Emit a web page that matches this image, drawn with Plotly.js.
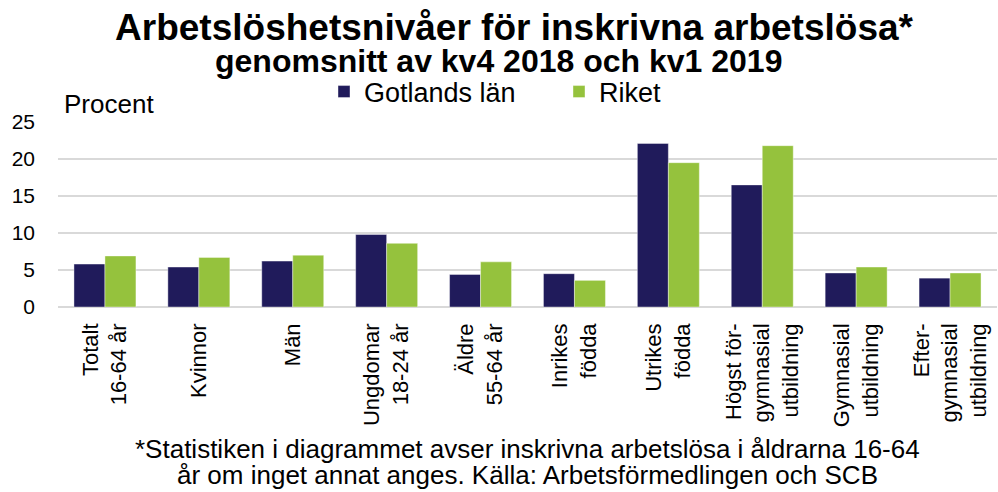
<!DOCTYPE html>
<html>
<head>
<meta charset="utf-8">
<script src="https://cdn.plot.ly/plotly-3.0.1.min.js"></script>
<style>html,body{margin:0;padding:0;background:#fff;}#chart{width:998px;height:492px;}</style>
</head>
<body>
<div id="chart"></div>
<script>
const categories = [
  "Totalt<br>16-64 år",
  "Kvinnor",
  "Män",
  "Ungdomar<br>18-24 år",
  "Äldre<br>55-64 år",
  "Inrikes<br>födda",
  "Utrikes<br>födda",
  "Högst för-<br>gymnasial<br>utbildning",
  "Gymnasial<br>utbildning",
  "Efter-<br>gymnasial<br>utbildning"
];
const gotland = [5.8, 5.4, 6.2, 9.8, 4.4, 4.5, 22.1, 16.5, 4.6, 3.9];
const riket   = [6.9, 6.7, 7.0, 8.6, 6.1, 3.6, 19.5, 21.8, 5.4, 4.6];
const seriesNames = ["Gotlands län", "Riket"];
const yTicks = [0, 5, 10, 15, 20, 25];
const footnoteLines = [
  "*Statistiken i diagrammet avser inskrivna arbetslösa i åldrarna 16-64",
  "år om inget annat anges. Källa: Arbetsförmedlingen och SCB"
];

const AR = "Arial, 'Liberation Sans', sans-serif";
const L = 58, W = 939, T = 122, H = 185;
const px = p => (p - L) / W;          // pixel column -> paper x
const py = p => (T + H - p) / H;      // pixel row -> paper y

const traces = [
  {type: "bar", name: seriesNames[0], x: categories, y: gotland,
   marker: {color: "#201b5b", line: {color: "rgba(255,255,255,0.5)", width: 0.8}}},
  {type: "bar", name: seriesNames[1], x: categories, y: riket,
   marker: {color: "#95c23d", line: {color: "rgba(255,255,255,0.5)", width: 0.8}}}
];

const layout = {
  width: 998, height: 492,
  paper_bgcolor: "#ffffff", plot_bgcolor: "#ffffff",
  margin: {l: L, r: 998 - L - W, t: T, b: 492 - T - H},
  barmode: "group", bargap: 0.34, bargroupgap: 0,
  font: {family: AR, color: "#000"},
  title: {
    text: "<b>Arbetslöshetsnivåer för inskrivna arbetslösa*</b>",
    font: {family: AR, size: 37, color: "#000"},
    x: 514/998, xanchor: "center", xref: "container",
    y: 1 - 40/492, yref: "container", yanchor: "bottom"
  },
  showlegend: true,
  legend: {
    orientation: "h", x: px(324), xanchor: "left", y: 1 - 92/492, yref: "container", yanchor: "middle",
    font: {family: AR, size: 27, color: "#000"},
    traceorder: "normal", entrywidth: 190, itemwidth: 30
  },
  xaxis: {
    type: "category", tickangle: -90, tickfont: {family: AR, size: 22, color: "#000"},
    showgrid: false, showline: false, ticks: "", ticklabelstandoff: 11, automargin: false
  },
  yaxis: {
    range: [0, 25], tickvals: yTicks, ticktext: yTicks.map(String),
    tickfont: {family: AR, size: 21, color: "#000"},
    showgrid: true, gridcolor: "#d9d9d9", gridwidth: 2,
    zeroline: true, zerolinecolor: "#d9d9d9", zerolinewidth: 2,
    showline: false, ticks: "", ticklabelstandoff: 22, automargin: false
  },
  annotations: [
    {text: "<b>genomsnitt av kv4 2018 och kv1 2019</b>", xref: "paper", yref: "paper",
     x: px(498), y: py(81), xanchor: "center", yanchor: "bottom",
     showarrow: false, font: {family: AR, size: 32, color: "#000"}},
    {text: "Procent", xref: "paper", yref: "paper", x: px(62), y: py(121),
     xanchor: "left", yanchor: "bottom", showarrow: false,
     font: {family: AR, size: 26, color: "#000"}},
    {text: footnoteLines[0], xref: "paper", yref: "paper", x: px(527), y: py(449),
     xanchor: "center", yanchor: "middle", showarrow: false,
     font: {family: AR, size: 26, color: "#000"}},
    {text: footnoteLines[1], xref: "paper", yref: "paper", x: px(527), y: py(475),
     xanchor: "center", yanchor: "middle", showarrow: false,
     font: {family: AR, size: 26, color: "#000"}}
  ]
};

Plotly.newPlot("chart", traces, layout, {displayModeBar: false, staticPlot: true});
</script>
</body>
</html>
